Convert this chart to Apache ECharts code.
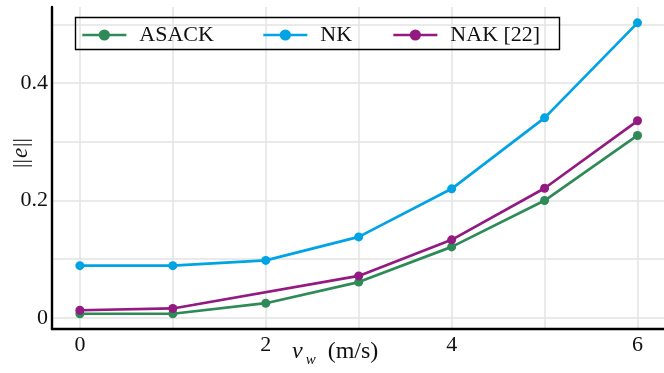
<!DOCTYPE html>
<html>
<head>
<meta charset="utf-8">
<script src="https://cdn.jsdelivr.net/npm/echarts@6/dist/echarts.min.js"></script>
<style>html,body{margin:0;padding:0;background:#fff}#c{width:664px;height:373px}</style>
</head>
<body>
<div id="c"></div>
<script>
const xValues = [0, 1, 2, 3, 4, 5, 6];
const asack = [0.007, 0.007, 0.025, 0.061, 0.121, 0.200, 0.311];
const nk = [0.089, 0.089, 0.098, 0.138, 0.220, 0.341, 0.503];
const nak = [0.013, 0.016, null, 0.0715, 0.133, 0.221, 0.336];
const xTickLabels = [0, 2, 4, 6];
const xGridTicks = [0, 1, 2, 3, 4, 5, 6];
const yTickLabels = [0, 0.2, 0.4];
const yGridTicks = [0, 0.1, 0.2, 0.3, 0.4, 0.5];
const names = ['ASACK', 'NK', 'NAK [22]'];
const colors = ['#2E8B57', '#00A3E4', '#921A80'];

const FONT = 'Liberation Serif';
const chart = echarts.init(document.getElementById('c'), null, {renderer: 'canvas'});

function pairs(arr) { return xValues.map((x, i) => [x, arr[i]]); }

const seriesData = [asack, nk, nak];
const series = seriesData.map((d, i) => ({
  name: names[i],
  type: 'line',
  data: pairs(d),
  connectNulls: true,
  symbol: 'circle',
  symbolSize: 9,
  showAllSymbol: true,
  lineStyle: {width: 2.7, color: colors[i]},
  itemStyle: {color: colors[i]},
  z: 3 + i,
  animation: false
}));

const legendLefts = [81, 262, 392];
const legends = names.map((n, i) => ({
  data: [n],
  left: legendLefts[i],
  top: 24,
  padding: 0,
  itemWidth: 44,
  itemHeight: 14,
  itemGap: 0,
  z: 60,
  lineStyle: {width: 2.7},
  textStyle: {fontFamily: FONT, fontSize: 22, color: '#111', padding: [0, 0, 0, 8]},
  selectedMode: false
}));

chart.setOption({
  animation: false,
  backgroundColor: '#fff',
  grid: {left: 52, right: 0, top: 7, bottom: 44, containLabel: false},
  legend: legends,
  xAxis: {
    type: 'value', min: -0.3, max: 6.285,
    axisLine: {show: true, onZero: false, lineStyle: {color: '#000', width: 2.4}},
    axisTick: {show: false, customValues: xGridTicks},
    axisLabel: {customValues: xTickLabels, fontFamily: FONT, fontSize: 22, color: '#111', margin: 5},
    splitLine: {show: true, lineStyle: {color: '#e3e3e3', width: 1.5}}
  },
  yAxis: {
    type: 'value', min: -0.019, max: 0.53,
    axisLine: {show: true, onZero: false, lineStyle: {color: '#000', width: 2.4}},
    axisTick: {show: false, customValues: yGridTicks},
    axisLabel: {customValues: yTickLabels, fontFamily: FONT, fontSize: 22, color: '#111', margin: 4,
      formatter: v => String(Math.round(v * 10) / 10)},
    splitLine: {show: true, lineStyle: {color: '#e3e3e3', width: 1.5}}
  },
  graphic: [
    {type: 'rect', left: 73, top: 15, shape: {width: 484, height: 32},
      style: {fill: 'none', stroke: '#000', lineWidth: 1.4}, z: 50, silent: true},
    {type: 'text', left: 292, top: 340, z: 60,
      style: {text: '{v|v}{w|w}{n|  (m/s)}', rich: {
        v: {fontFamily: FONT, fontStyle: 'italic', fontSize: 24, fill: '#111'},
        w: {fontFamily: FONT, fontStyle: 'italic', fontSize: 15, fill: '#111', padding: [17, 0, 0, 3]},
        n: {fontFamily: FONT, fontSize: 24, fill: '#111'}
      }}},
    {type: 'text', x: 21, y: 153, rotation: Math.PI / 2, z: 60,
      style: {text: '{b|||}{e|e}{b|||}', align: 'center', verticalAlign: 'middle', rich: {
        b: {fontFamily: FONT, fontSize: 22, fill: '#111'},
        e: {fontFamily: FONT, fontStyle: 'italic', fontSize: 23, fill: '#111', padding: [0, 1, 0, 1]}
      }}}
  ],
  series: series
});
</script>
</body>
</html>
